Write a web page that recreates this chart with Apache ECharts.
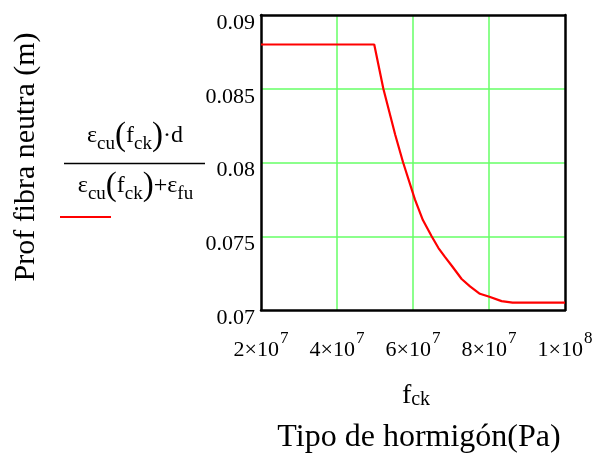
<!DOCTYPE html>
<html>
<head>
<meta charset="utf-8">
<script src="https://cdn.jsdelivr.net/npm/echarts@6/dist/echarts.min.js"></script>
<style>
html,body{margin:0;padding:0;background:#fff;}
#chart{width:599px;height:470px;}
</style>
</head>
<body>
<div id="chart"></div>
<script>
// Data (fck in Pa, neutral-axis depth in m)
var fck = [2e7, 4.98e7, 5.22e7, 5.53e7, 5.74e7, 6.05e7, 6.26e7, 6.49e7, 6.67e7, 6.84e7, 7.02e7, 7.28e7, 7.5e7, 7.76e7, 8.01e7, 8.33e7, 8.62e7, 1e8];
var depth = [0.088, 0.088, 0.0850, 0.0819, 0.0800, 0.0775, 0.0761, 0.0750, 0.0742, 0.0736, 0.0730, 0.0721, 0.0716, 0.0711, 0.0709, 0.0706, 0.0705, 0.0705];
var xTickMantissa = {20000000: ['2', '7'], 40000000: ['4', '7'], 60000000: ['6', '7'], 80000000: ['8', '7'], 100000000: ['1', '8']};
var yTickLabels = ['0.07', '0.075', '0.08', '0.085', '0.09'];

var FONT = 'Liberation Serif';
var points = fck.map(function (x, i) { return [x, depth[i]]; });

var fracRich = {
  e: {fontFamily: FONT, fontSize: 24, fill: '#000', lineHeight: 30, verticalAlign: 'top', padding: [4, 0, 0, 0]},
  s: {fontFamily: FONT, fontSize: 19, fill: '#000', lineHeight: 20, verticalAlign: 'top', padding: [15, 0, 0, 0]},
  p: {fontFamily: FONT, fontSize: 33, fill: '#000', lineHeight: 34, verticalAlign: 'top', padding: [0, 0, 0, 0]}
};

var chart = echarts.init(document.getElementById('chart'), null, {renderer: 'canvas'});
chart.setOption({
  animation: false,
  backgroundColor: '#fff',
  grid: {left: 261, right: 34, top: 15, bottom: 160, show: false},
  xAxis: [{
    type: 'value', min: 2e7, max: 1e8, interval: 2e7,
    axisLine: {show: true, onZero: false, lineStyle: {color: '#000', width: 2.5}},
    axisTick: {show: false},
    splitLine: {show: true, showMinLine: false, showMaxLine: false, lineStyle: {color: '#66ff66', width: 1.5}},
    axisLabel: {
      margin: 20,
      formatter: function (v) {
        var m = xTickMantissa[Math.round(v)];
        return '{b|' + m[0] + '×10}{s|' + m[1] + '}';
      },
      rich: {
        b: {fontFamily: FONT, fontSize: 22, color: '#000', lineHeight: 24, verticalAlign: 'top', padding: [9, 0, 0, 0]},
        s: {fontFamily: FONT, fontSize: 17, color: '#000', lineHeight: 18, verticalAlign: 'top', padding: [0, 0, 0, 1]}
      }
    }
  }, {
    type: 'value', position: 'top', min: 2e7, max: 1e8, interval: 2e7,
    axisLine: {show: true, onZero: false, lineStyle: {color: '#000', width: 2.5}},
    axisTick: {show: false}, axisLabel: {show: false}, splitLine: {show: false}
  }],
  yAxis: [{
    type: 'value', min: 0.07, max: 0.09, interval: 0.005,
    axisLine: {show: true, onZero: false, lineStyle: {color: '#000', width: 2.5}},
    axisTick: {show: false},
    splitLine: {show: true, showMinLine: false, showMaxLine: false, lineStyle: {color: '#66ff66', width: 1.5}},
    axisLabel: {
      margin: 6,
      fontFamily: FONT, fontSize: 22, color: '#000',
      verticalAlign: 'top', lineHeight: 16,
      formatter: function (v) {
        var idx = Math.round((v - 0.07) / 0.005);
        return yTickLabels[idx];
      }
    }
  }, {
    type: 'value', position: 'right', min: 0.07, max: 0.09, interval: 0.005,
    axisLine: {show: true, onZero: false, lineStyle: {color: '#000', width: 2.5}},
    axisTick: {show: false}, axisLabel: {show: false}, splitLine: {show: false}
  }],
  series: [{
    type: 'line', data: points, showSymbol: false, symbol: 'none',
    lineStyle: {color: '#ff0000', width: 2.2}, z: 3, clip: true
  }],
  graphic: [
    {type: 'text', x: 26, y: 157, rotation: Math.PI / 2, style: {text: 'Prof fibra neutra (m)', font: '30px "Liberation Serif"', fill: '#000', textAlign: 'center', textVerticalAlign: 'middle'}},
    {type: 'text', x: 135, y: 137, style: {
      text: '{e|ε}{s|cu}{p|(}{e|f}{s|ck}{p|)}{e|·d}',
      textAlign: 'center', textVerticalAlign: 'middle', rich: fracRich
    }},
    {type: 'line', shape: {x1: 64, y1: 163.5, x2: 205, y2: 163.5}, style: {stroke: '#000', lineWidth: 1.5}},
    {type: 'text', x: 135.5, y: 187, style: {
      text: '{e|ε}{s|cu}{p|(}{e|f}{s|ck}{p|)}{e|+ε}{s|fu}',
      textAlign: 'center', textVerticalAlign: 'middle', rich: fracRich
    }},
    {type: 'line', shape: {x1: 60, y1: 217, x2: 111, y2: 217}, style: {stroke: '#ff0000', lineWidth: 2}},
    {type: 'text', x: 416, y: 397, style: {
      text: '{e|f}{s|ck}', textAlign: 'center', textVerticalAlign: 'middle',
      rich: {
        e: {fontFamily: FONT, fontSize: 28, fill: '#000', lineHeight: 30, verticalAlign: 'top', padding: [0, 0, 0, 0]},
        s: {fontFamily: FONT, fontSize: 20, fill: '#000', lineHeight: 22, verticalAlign: 'top', padding: [8, 0, 0, 0]}
      }
    }},
    {type: 'text', x: 419, y: 438, style: {text: 'Tipo de hormigón(Pa)', font: '32px "Liberation Serif"', fill: '#000', textAlign: 'center', textVerticalAlign: 'middle'}}
  ]
});
</script>
</body>
</html>
